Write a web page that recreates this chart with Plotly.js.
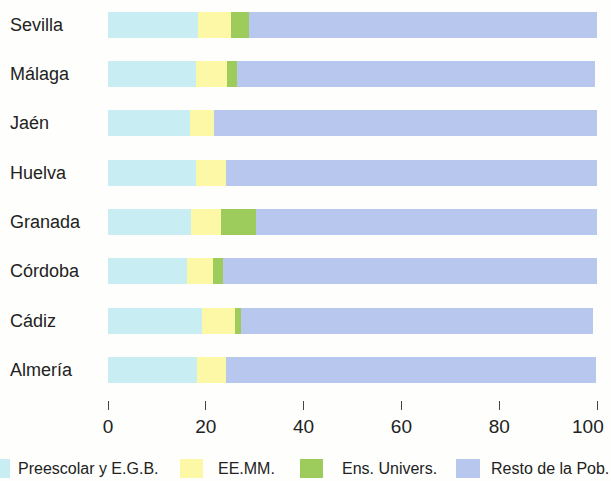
<!DOCTYPE html>
<html>
<head>
<meta charset="utf-8">
<script src="https://cdn.plot.ly/plotly-3.0.1.min.js"></script>
<style>html,body{margin:0;padding:0;background:#fefefc;}#chart{width:611px;height:481px;}</style>
</head>
<body>
<div id="chart"></div>
<script>
const provincias = ['Sevilla','Málaga','Jaén','Huelva','Granada','Córdoba','Cádiz','Almería'];
const preescolarEGB = [18.4, 18.0, 16.8, 18.0, 17.0, 16.2, 19.2, 18.2];
const eemm          = [6.7, 6.3, 4.9, 6.1, 6.1, 5.3, 6.7, 5.9];
const ensUnivers    = [3.7, 2.0, 0, 0, 7.2, 2.0, 1.2, 0];
const restoPob      = [71.4, 73.2, 78.3, 75.8, 69.6, 76.4, 72.1, 75.6];
const seriesNames   = ['Preescolar y E.G.B.', 'EE.MM.', 'Ens. Univers.', 'Resto de la Pob.'];
const xTicks        = [0, 20, 40, 60, 80, 100];

const colors = ['#c8eef4', '#fdf8a6', '#9dcc5c', '#b8c7ee'];
const seriesData = [preescolarEGB, eemm, ensUnivers, restoPob];

const traces = seriesData.map((vals, i) => ({
  type: 'bar', orientation: 'h',
  x: vals, y: provincias, name: seriesNames[i],
  marker: {color: colors[i], line: {width: 0}},
  hoverinfo: 'x+y'
}));

const L = 108, R = 14, PH = 400, PW = 611 - L - R;
const px2x = p => (p - L) / PW;
const py2y = p => (PH - p) / PH;

const font = 'Liberation Sans, Arial, Helvetica, sans-serif';

const annotations = provincias.map(p => ({
  xref: 'paper', yref: 'y', x: 0, y: p, xshift: -100,
  xanchor: 'left', yanchor: 'middle', showarrow: false,
  text: p, font: {family: font, size: 18, color: '#222'}
}));

const legendPos = [
  {sx0: -15, sx1: 10, tx: 16},
  {sx0: 180, sx1: 203, tx: 216},
  {sx0: 300, sx1: 323, tx: 340},
  {sx0: 456, sx1: 480, tx: 489}
];
const shapes = [];
legendPos.forEach((lp, i) => {
  shapes.push({type: 'rect', xref: 'paper', yref: 'paper',
    x0: px2x(lp.sx0), x1: px2x(lp.sx1), y0: py2y(478), y1: py2y(459),
    fillcolor: colors[i], line: {width: 0}});
  annotations.push({xref: 'paper', yref: 'paper', x: px2x(lp.tx), y: py2y(468),
    xanchor: 'left', yanchor: 'middle', showarrow: false,
    text: seriesNames[i], font: {family: font, size: 16, color: '#222'}});
});

// last tick label is drawn as an annotation shifted left so it stays inside the page, as in the reference
const lastTick = xTicks[xTicks.length - 1];
const tickText = xTicks.map(v => v === lastTick ? '' : String(v));
annotations.push({xref: 'x', yref: 'paper', x: lastTick, y: py2y(426), xshift: -9,
  xanchor: 'center', yanchor: 'middle', showarrow: false,
  text: String(lastTick), font: {family: font, size: 19, color: '#222'}});

const layout = {
  width: 611, height: 481,
  margin: {l: L, r: R, t: 0, b: 481 - PH, pad: 0},
  paper_bgcolor: '#fefefc', plot_bgcolor: '#fefefc',
  barmode: 'stack', bargap: 0.47,
  showlegend: false,
  xaxis: {range: [0, 100], tickvals: xTicks, ticktext: tickText,
    ticks: 'outside', ticklen: 9, tickwidth: 1, tickcolor: '#444',
    showgrid: false, zeroline: false, showline: false,
    tickfont: {family: font, size: 19, color: '#222'}, fixedrange: true},
  yaxis: {type: 'category', range: [7.61, -0.5], showticklabels: false,
    showgrid: false, zeroline: false, showline: false, ticks: '', fixedrange: true},
  annotations: annotations, shapes: shapes
};

Plotly.newPlot('chart', traces, layout, {displayModeBar: false, staticPlot: true});
</script>
</body>
</html>
